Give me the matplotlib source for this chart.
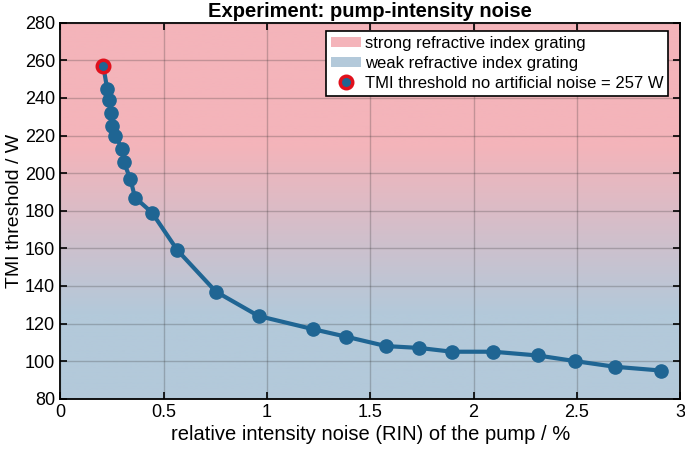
import numpy as np
import matplotlib
matplotlib.use("Agg")
import matplotlib.pyplot as plt
from matplotlib.colors import LinearSegmentedColormap
from matplotlib.patches import Patch
from matplotlib.lines import Line2D

plt.rcParams['font.family'] = ['Liberation Sans', 'DejaVu Sans']

# measured data: relative intensity noise (%) vs TMI threshold (W)
rin = [0.207, 0.226, 0.236, 0.243, 0.250, 0.264, 0.299, 0.306, 0.338, 0.361,
       0.443, 0.566, 0.752, 0.959, 1.223, 1.383, 1.576, 1.738, 1.895, 2.095,
       2.311, 2.492, 2.684, 2.906]
threshold = [257, 245, 239, 232, 225, 220, 213, 206, 197, 187,
             179, 159, 137, 124, 117, 113, 108, 107, 105, 105,
             103, 100, 97, 95]

pink = "#f4b4ba"
blue = "#b3c9da"
line_col = "#1f6593"
red = "#e0101c"

fig = plt.figure(figsize=(6.85, 4.55), dpi=100)
ax = fig.add_axes([0.0883, 0.1237, 0.9045, 0.8263])

# background gradient: pink (strong grating) at top, blue (weak grating) at bottom
yy = np.linspace(80, 280, 400)
t = np.clip((yy - 125) / (215 - 125), 0, 1)
cmap = LinearSegmentedColormap.from_list("grating", [blue, pink])
ax.imshow(t[:, None], extent=[0, 3, 80, 280], origin="lower", aspect="auto",
          cmap=cmap, vmin=0, vmax=1, zorder=0)

ax.plot(rin, threshold, "-o", color=line_col, lw=3, ms=9.5,
        markerfacecolor=line_col, markeredgecolor=line_col, zorder=3)
ax.plot(rin[0], threshold[0], "o", ms=9, markerfacecolor=line_col,
        markeredgecolor=red, markeredgewidth=2.5, zorder=4)

ax.set_xlim(0, 3)
ax.set_ylim(80, 280)
ax.set_xticks([0, 0.5, 1, 1.5, 2, 2.5, 3])
ax.set_xticklabels(["0", "0.5", "1", "1.5", "2", "2.5", "3"])
ax.set_yticks(range(80, 281, 20))
ax.grid(True, color="#303030", alpha=0.25, lw=1)
ax.set_axisbelow(False)
ax.tick_params(direction="in", length=5, width=1.2, labelsize=13,
               top=True, right=True, pad=4)
for s in ax.spines.values():
    s.set_linewidth(1.3)

ax.set_xlabel("relative intensity noise (RIN) of the pump / %", fontsize=14.5,
              labelpad=3)
ax.set_ylabel("TMI threshold / W", fontsize=14, labelpad=1)
ax.set_title("Experiment: pump-intensity noise", fontsize=14.5,
             fontweight="bold", pad=4)

handles = [
    Patch(facecolor=pink, edgecolor="none", label="strong refractive index grating"),
    Patch(facecolor=blue, edgecolor="none", label="weak refractive index grating"),
    Line2D([], [], ls="none", marker="o", ms=9, markerfacecolor=line_col,
           markeredgecolor=red, markeredgewidth=2.5,
           label="TMI threshold no artificial noise = 257 W"),
]
leg = ax.legend(handles=handles, loc="upper right", bbox_to_anchor=(0.981, 0.978),
                fontsize=12, fancybox=False, framealpha=1, edgecolor="black",
                borderpad=0.3, labelspacing=0.3, handlelength=1.8,
                handleheight=0.6, handletextpad=0.2, borderaxespad=0)
leg.get_frame().set_linewidth(1.2)

fig.savefig("out.png", dpi=100)
